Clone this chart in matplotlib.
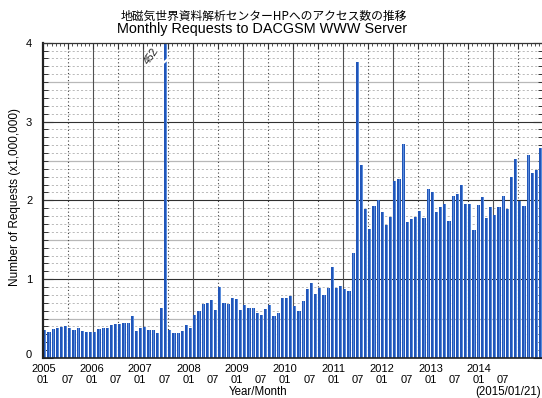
import matplotlib
matplotlib.use('Agg')
import matplotlib.pyplot as plt
import numpy as np
from matplotlib.transforms import ScaledTranslation, blended_transform_factory

plt.rcParams['font.family'] = ['Liberation Sans', 'DejaVu Sans']

title_ja = '地磁気世界資料解析センターHPへのアクセス数の推移'
title_en = 'Monthly Requests to DACGSM WWW Server'
ylabel = 'Number of Requests (x1,000,000)'
xlabel = 'Year/Month'
date_note = '(2015/01/21)'

years = ['2005', '2006', '2007', '2008', '2009', '2010', '2011', '2012', '2013', '2014']
month_labels = ['01', '07']
ytick_values = [0, 1, 2, 3, 4]

# monthly requests (millions), Jan..Dec
r2005 = [0.355, 0.33, 0.367, 0.376, 0.398, 0.406, 0.385, 0.355, 0.385, 0.343, 0.326, 0.326]
r2006 = [0.33, 0.367, 0.376, 0.376, 0.419, 0.431, 0.427, 0.44, 0.448, 0.533, 0.343, 0.376]
r2007 = [0.39, 0.355, 0.355, 0.313, 0.63, 4.52, 0.355, 0.32, 0.32, 0.347, 0.419, 0.376]
r2008 = [0.546, 0.597, 0.686, 0.694, 0.736, 0.609, 0.905, 0.694, 0.686, 0.757, 0.745, 0.609]
r2009 = [0.673, 0.639, 0.63, 0.567, 0.546, 0.618, 0.673, 0.533, 0.567, 0.757, 0.757, 0.787]
r2010 = [0.660, 0.597, 0.728, 0.872, 0.956, 0.808, 0.893, 0.800, 0.884, 1.15, 0.884, 0.914]
r2011 = [0.876, 0.851, 1.33, 3.75, 2.45, 1.89, 1.64, 1.93, 2.0, 1.85, 1.69, 1.79]
r2012 = [2.25, 2.27, 2.72, 1.73, 1.76, 1.79, 1.87, 1.77, 2.14, 2.10, 1.85, 1.91]
r2013 = [1.95, 1.74, 2.06, 2.08, 2.19, 1.96, 1.96, 1.62, 1.94, 2.04, 1.78, 1.91]
r2014 = [1.81, 1.92, 2.06, 1.89, 2.30, 2.53, 1.99, 1.93, 2.58, 2.35, 2.39, 2.66]

values = np.array(r2005 + r2006 + r2007 + r2008 + r2009 + r2010 + r2011 + r2012 + r2013 + r2014)
n = len(values)
x = np.arange(n)
ymax = 4.0

W, H = 542, 398
fig = plt.figure(figsize=(W / 100, H / 100), dpi=100)
ax = fig.add_axes([43.3 / W, 40 / H, 500 / W, 315.3 / H])
ax.set_xlim(0, n)
ax.set_ylim(0, ymax)

# grid
for v in np.arange(0.1, ymax, 0.1):
    v = round(v, 1)
    if abs(v * 2 - round(v * 2)) < 1e-6:
        continue
    ax.axhline(v, color='#b0b0b0', lw=0.6, ls=(0, (2.5, 2.5)), zorder=0)
for v in np.arange(0.5, ymax, 1.0):
    ax.axhline(v, color='#b8b8b8', lw=0.9, zorder=0.5)
for v in range(1, int(ymax)):
    ax.axhline(v, color='#303030', lw=0.8, zorder=0.6)
for m in range(6, n, 12):
    ax.axvline(m, color='#404040', lw=0.8, ls=(0, (1, 2.2)), zorder=0.6)
for m in range(12, n, 12):
    ax.axvline(m, color='#505050', lw=0.8, zorder=0.6)

# bars (two-tone)
ax.bar(x, values, width=0.74, align='edge', color='#2155b8', lw=0, zorder=2)
ax.bar(x + 0.42, values, width=0.24, align='edge', color='#5a8ddc', lw=0, zorder=2.1)

# break mark on clipped bar
idx = int(np.argmax(values))
if values[idx] > ymax:
    ax.plot([idx - 0.4, idx + 1.1], [3.735, 3.80], color='white', lw=1.6, zorder=3,
            solid_capstyle='butt')
    ax.text(idx - 3.0, 3.83, f'{values[idx] * 100:.0f}', rotation=55, ha='center',
            va='center', fontsize=7.5, color='#222222', zorder=4)

# ticks
ax.set_xticks(np.arange(0, n + 1, 6))
ax.set_xticks(np.arange(0, n + 1, 1), minor=True)
ax.tick_params(axis='x', which='both', bottom=False, top=True, direction='in',
               labelbottom=False, color='#333333')
ax.tick_params(axis='x', which='major', length=4.5, width=0.8)
ax.tick_params(axis='x', which='minor', length=2.5, width=0.6)

ax.set_yticks(ytick_values)
ax.set_yticks(np.arange(0, ymax + 0.01, 0.1), minor=True)
ax.set_yticklabels([str(v) for v in ytick_values], fontsize=8)
ax.tick_params(axis='y', which='both', left=True, right=True, direction='in',
               color='#333333', pad=8)
ax.tick_params(axis='y', which='major', length=7, width=0.8)
ax.tick_params(axis='y', which='minor', length=3.5, width=0.7)
lbl0 = ax.get_yticklabels()[0]
lbl0.set_transform(lbl0.get_transform() + ScaledTranslation(0, 3 / 72, fig.dpi_scale_trans))

ax.spines['left'].set_linewidth(1.6)
ax.spines['left'].set_color('#222222')
ax.spines['bottom'].set_linewidth(1.2)
ax.spines['bottom'].set_color('#222222')
ax.spines['top'].set_linewidth(0.9)
ax.spines['top'].set_color('#333333')

# bottom labels
trans = blended_transform_factory(ax.transData, fig.transFigure)
label_scale = 0.968
for k, yr in enumerate(years):
    ax.text(12 * k * label_scale, 1 - 369 / H, yr, transform=trans, ha='center',
            va='center', fontsize=8)
for k in range(2 * len(years)):
    ax.text(6 * k * label_scale, 1 - 380 / H, month_labels[k % 2], transform=trans,
            ha='center', va='center', fontsize=8)

fig.text(258 / W, 1 - 392 / H, xlabel, ha='center', va='center', fontsize=8.3)
fig.text(541 / W, 1 - 392 / H, date_note, ha='right', va='center', fontsize=8.3)
fig.text(15 / W, 1 - 197.5 / H, ylabel, rotation=90, ha='center', va='center', fontsize=8.5)

fig.text(264 / W, 1 - 16 / H, title_ja, ha='center', va='center', fontsize=8.5,
         family=['Noto Sans CJK JP', 'DejaVu Sans'])
fig.text(262.5 / W, 1 - 29 / H, title_en, ha='center', va='center', fontsize=10.4)

fig.savefig('out.png', dpi=100)
